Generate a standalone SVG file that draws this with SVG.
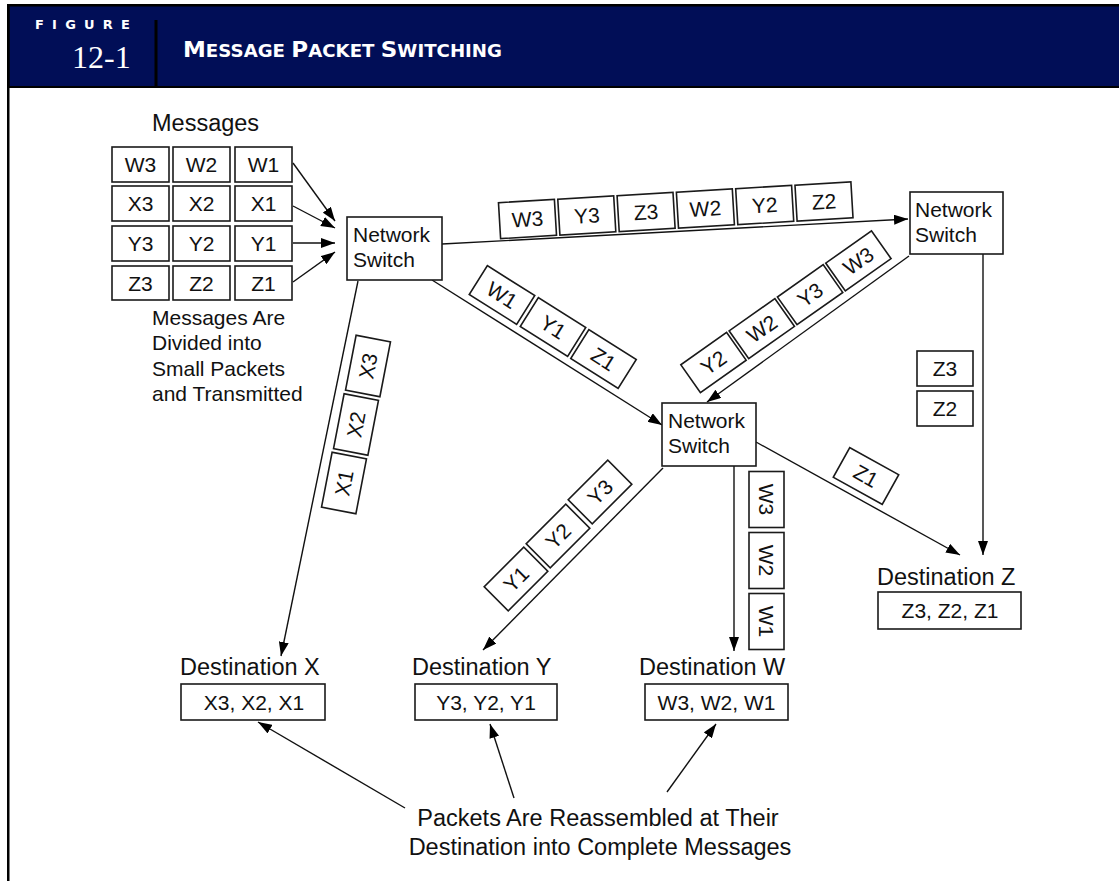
<svg xmlns="http://www.w3.org/2000/svg" width="1119" height="881" viewBox="0 0 1119 881">
<style>
.bx{fill:#fff;stroke:#1a1a1a;stroke-width:1.6}
.t{font-family:"Liberation Sans",Arial,sans-serif;font-size:21px;fill:#111;text-anchor:middle}
.sw{font-family:"Liberation Sans",Arial,sans-serif;font-size:21px;fill:#111}
.lb{font-family:"Liberation Sans",Arial,sans-serif;font-size:23.5px;fill:#111}
.sm{font-family:"Liberation Sans",Arial,sans-serif;font-size:21px;fill:#111}
.cn line{stroke:#111;stroke-width:1.4;marker-end:url(#ah)}
</style>
<defs>
<marker id="ah" markerUnits="userSpaceOnUse" markerWidth="14" markerHeight="10" refX="14" refY="5" orient="auto"><path d="M0,0 L14,5 L0,10 z" fill="#000"/></marker>
</defs>
<rect width="1119" height="881" fill="#fff"/>
<g id="header">
<rect x="7" y="4" width="1112" height="84" fill="#000"/>
<rect x="9.5" y="6.5" width="1109.5" height="79.5" fill="#010e57"/>
<rect x="154.5" y="20" width="3" height="66" fill="#000"/>
<text x="35" y="29" font-family="DejaVu Sans,sans-serif" font-weight="bold" font-size="13" fill="#fff" textLength="95" lengthAdjust="spacing">FIGURE</text>
<text x="72" y="68" font-family="Liberation Serif,serif" font-size="32" fill="#fff">12-1</text>
<text x="183" y="57" font-family="DejaVu Sans,sans-serif" font-weight="bold" fill="#fff" textLength="319" lengthAdjust="spacingAndGlyphs"><tspan font-size="21.5">M</tspan><tspan font-size="17">ESSAGE </tspan><tspan font-size="21.5">P</tspan><tspan font-size="17">ACKET </tspan><tspan font-size="21.5">S</tspan><tspan font-size="17">WITCHING</tspan></text>
</g>
<rect x="7" y="4" width="2.5" height="877" fill="#000"/>

<g id="connectors" class="cn">
<line x1="293" y1="163" x2="335" y2="221"/>
<line x1="293" y1="206" x2="335" y2="228"/>
<line x1="293" y1="243" x2="335" y2="243"/>
<line x1="293" y1="282" x2="335" y2="252"/>
<line x1="442" y1="244" x2="908" y2="219"/>
<line x1="432" y1="280" x2="662" y2="425"/>
<line x1="358" y1="281" x2="281" y2="656"/>
<line x1="909" y1="256" x2="707" y2="402"/>
<line x1="983" y1="254" x2="983" y2="555"/>
<line x1="756" y1="442" x2="960" y2="555"/>
<line x1="663" y1="468" x2="483" y2="650"/>
<line x1="734" y1="466" x2="734" y2="651"/>
<line x1="405" y1="808" x2="258" y2="722"/>
<line x1="514" y1="798" x2="490" y2="724"/>
<line x1="667" y1="792" x2="716" y2="724"/>
</g>

<g id="messages">
<text class="lb" x="152" y="131">Messages</text>
<rect class="bx" x="112" y="147" width="57" height="35"/><text class="t" x="140.5" y="172">W3</text>
<rect class="bx" x="173" y="147" width="57" height="35"/><text class="t" x="201.5" y="172">W2</text>
<rect class="bx" x="235" y="147" width="57" height="35"/><text class="t" x="263.5" y="172">W1</text>
<rect class="bx" x="112" y="186" width="57" height="35"/><text class="t" x="140.5" y="211">X3</text>
<rect class="bx" x="173" y="186" width="57" height="35"/><text class="t" x="201.5" y="211">X2</text>
<rect class="bx" x="235" y="186" width="57" height="35"/><text class="t" x="263.5" y="211">X1</text>
<rect class="bx" x="112" y="226" width="57" height="35"/><text class="t" x="140.5" y="251">Y3</text>
<rect class="bx" x="173" y="226" width="57" height="35"/><text class="t" x="201.5" y="251">Y2</text>
<rect class="bx" x="235" y="226" width="57" height="35"/><text class="t" x="263.5" y="251">Y1</text>
<rect class="bx" x="112" y="266" width="57" height="34"/><text class="t" x="140.5" y="291">Z3</text>
<rect class="bx" x="173" y="266" width="57" height="34"/><text class="t" x="201.5" y="291">Z2</text>
<rect class="bx" x="235" y="266" width="57" height="34"/><text class="t" x="263.5" y="291">Z1</text>
<text class="sm" x="152" y="325">Messages Are</text>
<text class="sm" x="152" y="350">Divided into</text>
<text class="sm" x="152" y="376">Small Packets</text>
<text class="sm" x="152" y="401">and Transmitted</text>
</g>

<g id="switch1"><rect class="bx" x="347" y="217" width="95" height="63"/><text class="sw" x="353" y="242">Network</text><text class="sw" x="353" y="267">Switch</text></g>
<g id="switch2"><rect class="bx" x="910" y="192" width="93" height="62"/><text class="sw" x="915" y="217">Network</text><text class="sw" x="915" y="242">Switch</text></g>
<g id="switch3"><rect class="bx" x="662" y="403" width="94" height="63"/><text class="sw" x="668" y="428">Network</text><text class="sw" x="668" y="453">Switch</text></g>

<g id="packets-top">
<g transform="translate(527.5,219) rotate(-3.4)"><rect class="bx" x="-28" y="-18" width="56" height="36"/><text class="t" y="7.5">W3</text></g>
<g transform="translate(586.8,215.5) rotate(-3.4)"><rect class="bx" x="-28" y="-18" width="56" height="36"/><text class="t" y="7.5">Y3</text></g>
<g transform="translate(646.1,212) rotate(-3.4)"><rect class="bx" x="-28" y="-18" width="56" height="36"/><text class="t" y="7.5">Z3</text></g>
<g transform="translate(705.4,208.5) rotate(-3.4)"><rect class="bx" x="-28" y="-18" width="56" height="36"/><text class="t" y="7.5">W2</text></g>
<g transform="translate(764.7,205) rotate(-3.4)"><rect class="bx" x="-28" y="-18" width="56" height="36"/><text class="t" y="7.5">Y2</text></g>
<g transform="translate(824,201.5) rotate(-3.4)"><rect class="bx" x="-28" y="-18" width="56" height="36"/><text class="t" y="7.5">Z2</text></g>
</g>

<g id="packets-s1-s3">
<g transform="translate(502,295) rotate(32.2)"><rect class="bx" x="-28" y="-17" width="56" height="34"/><text class="t" y="7.5">W1</text></g>
<g transform="translate(553,327) rotate(32.2)"><rect class="bx" x="-28" y="-17" width="56" height="34"/><text class="t" y="7.5">Y1</text></g>
<g transform="translate(603.5,359) rotate(32.2)"><rect class="bx" x="-28" y="-17" width="56" height="34"/><text class="t" y="7.5">Z1</text></g>
</g>

<g id="packets-s2-s3">
<g transform="translate(713.5,362.5) rotate(-35.2)"><rect class="bx" x="-28" y="-17" width="56" height="34"/><text class="t" y="7.5">Y2</text></g>
<g transform="translate(761.8,328.6) rotate(-35.2)"><rect class="bx" x="-28" y="-17" width="56" height="34"/><text class="t" y="7.5">W2</text></g>
<g transform="translate(810.1,294.7) rotate(-35.2)"><rect class="bx" x="-28" y="-17" width="56" height="34"/><text class="t" y="7.5">Y3</text></g>
<g transform="translate(858.4,260.9) rotate(-35.2)"><rect class="bx" x="-28" y="-17" width="56" height="34"/><text class="t" y="7.5">W3</text></g>
</g>

<g id="packets-x">
<g transform="translate(368,366) rotate(-79.1)"><rect class="bx" x="-28" y="-17.5" width="56" height="35"/><text class="t" y="7.5">X3</text></g>
<g transform="translate(356,424.5) rotate(-79.1)"><rect class="bx" x="-28" y="-17.5" width="56" height="35"/><text class="t" y="7.5">X2</text></g>
<g transform="translate(344,483) rotate(-79.1)"><rect class="bx" x="-28" y="-17.5" width="56" height="35"/><text class="t" y="7.5">X1</text></g>
</g>

<g id="packets-y">
<g transform="translate(516,579) rotate(-45)"><rect class="bx" x="-28" y="-17" width="56" height="34"/><text class="t" y="7.5">Y1</text></g>
<g transform="translate(558,536) rotate(-45)"><rect class="bx" x="-28" y="-17" width="56" height="34"/><text class="t" y="7.5">Y2</text></g>
<g transform="translate(600,492) rotate(-45)"><rect class="bx" x="-28" y="-17" width="56" height="34"/><text class="t" y="7.5">Y3</text></g>
</g>

<g id="packets-w">
<g transform="translate(766.5,499.5) rotate(90)"><rect class="bx" x="-28" y="-17.5" width="56" height="35"/><text class="t" y="7.5">W3</text></g>
<g transform="translate(766.5,560.5) rotate(90)"><rect class="bx" x="-28" y="-17.5" width="56" height="35"/><text class="t" y="7.5">W2</text></g>
<g transform="translate(766.5,621.5) rotate(90)"><rect class="bx" x="-28" y="-17.5" width="56" height="35"/><text class="t" y="7.5">W1</text></g>
</g>

<g id="packets-z">
<rect class="bx" x="917" y="351" width="56" height="35"/><text class="t" x="945" y="376">Z3</text>
<rect class="bx" x="917" y="391" width="56" height="35"/><text class="t" x="945" y="416">Z2</text>
<g transform="translate(866,476) rotate(29)"><rect class="bx" x="-28" y="-17" width="56" height="34"/><text class="t" y="7.5">Z1</text></g>
</g>

<g id="destX"><text class="lb" x="180" y="675">Destination X</text><rect class="bx" x="181" y="684" width="144" height="36"/><text class="t" x="254" y="710">X3, X2, X1</text></g>
<g id="destY"><text class="lb" x="412" y="675">Destination Y</text><rect class="bx" x="415" y="684" width="142" height="36"/><text class="t" x="486" y="710">Y3, Y2, Y1</text></g>
<g id="destW"><text class="lb" x="639" y="675">Destination W</text><rect class="bx" x="645" y="684" width="143" height="36"/><text class="t" x="716.5" y="710">W3, W2, W1</text></g>
<g id="destZ"><text class="lb" x="877" y="585">Destination Z</text><rect class="bx" x="878" y="592" width="143" height="37"/><text class="t" x="950" y="618">Z3, Z2, Z1</text></g>

<g id="note">
<text class="lb" x="598" y="826" text-anchor="middle">Packets Are Reassembled at Their</text>
<text class="lb" x="600" y="855" text-anchor="middle">Destination into Complete Messages</text>
</g>
</svg>
